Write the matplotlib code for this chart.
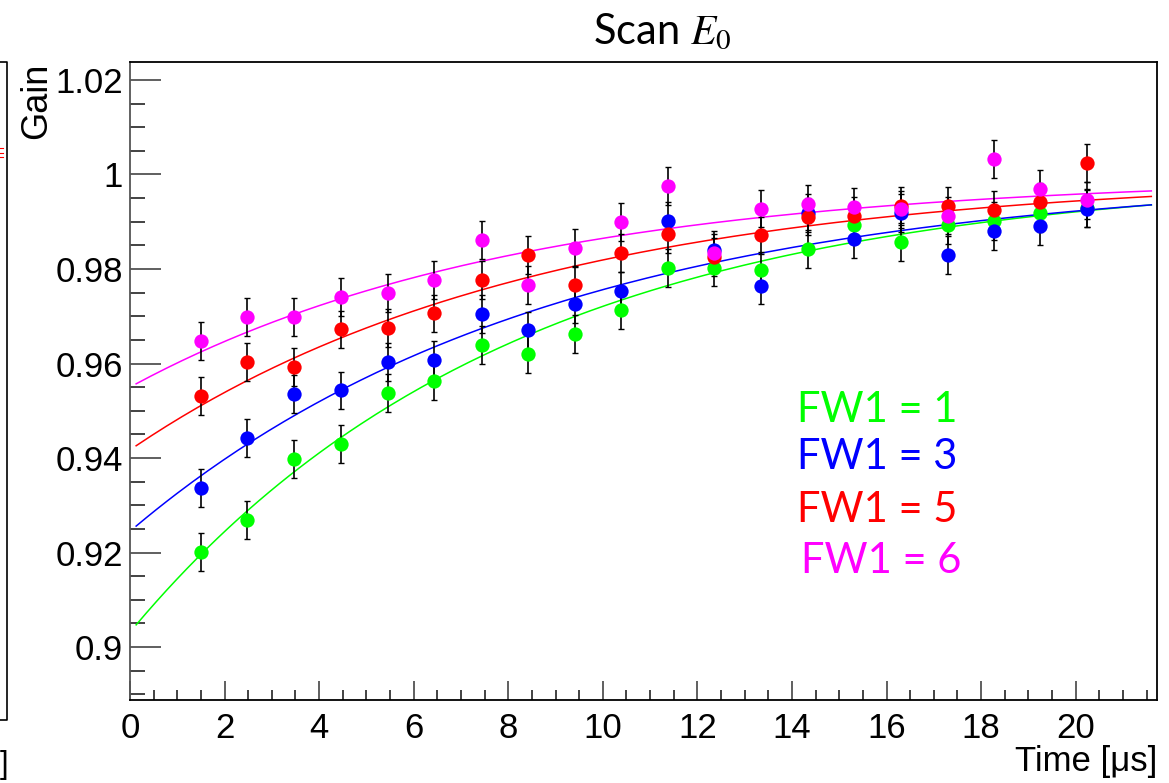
import matplotlib
matplotlib.use("Agg")
import matplotlib.pyplot as plt
import numpy as np
from matplotlib.lines import Line2D
from matplotlib.ticker import MultipleLocator, FixedLocator, FixedFormatter

plt.rcParams["mathtext.fontset"] = "stix"

# ---------------- data ----------------
TIME = [1.506, 2.478, 3.476, 4.469, 5.449, 6.433, 7.434, 8.412, 9.404, 10.39,
        11.375, 12.355, 13.354, 14.33, 15.31, 16.31, 17.30, 18.27, 19.25, 20.23]

GAIN_FW1_1 = [0.9201, 0.9269, 0.9398, 0.9429, 0.9537, 0.9563, 0.9640, 0.9620, 0.9663, 0.9714,
              0.9802, 0.9803, 0.9797, 0.9843, 0.9893, 0.9857, 0.9893, 0.9902, 0.9919, 0.9929]
GAIN_FW1_3 = [0.9336, 0.9443, 0.9535, 0.9543, 0.9604, 0.9608, 0.9705, 0.9670, 0.9726, 0.9754,
              0.9902, 0.9840, 0.9765, 0.9918, 0.9863, 0.9918, 0.9830, 0.9880, 0.9890, 0.9928]
GAIN_FW1_5 = [0.9531, 0.9604, 0.9593, 0.9672, 0.9676, 0.9706, 0.9777, 0.9830, 0.9766, 0.9833,
              0.9873, 0.9826, 0.9871, 0.9911, 0.9912, 0.9933, 0.9934, 0.9925, 0.9942, 1.0024]
GAIN_FW1_6 = [0.9647, 0.9699, 0.9699, 0.9741, 0.9749, 0.9777, 0.9861, 0.9766, 0.9844, 0.9900,
              0.9976, 0.9833, 0.9928, 0.9937, 0.9932, 0.9926, 0.9913, 1.0033, 0.9969, 0.9945]
YERR = 0.004

LABELS = ["FW1 = 1", "FW1 = 3", "FW1 = 5", "FW1 = 6"]
COLORS = ["#00ff00", "#0000ff", "#ff0000", "#ff00ff"]

# fit parameters f(t) = A - B*exp(-t/tau)
FIT_A = [1.00027, 1.00026, 1.00001, 0.99975]
FIT_B = [0.09712, 0.07576, 0.05829, 0.04475]
FIT_TAU = [8.08, 8.90, 8.55, 8.22]
FIT_RANGE = (0.13, 21.6)

XTICKS = [0, 2, 4, 6, 8, 10, 12, 14, 16, 18, 20]
YTICKS = [0.90, 0.92, 0.94, 0.96, 0.98, 1.00, 1.02]
YTICKLABELS = ["0.9", "0.92", "0.94", "0.96", "0.98", "1", "1.02"]

# ---------------- figure ----------------
W, H = 1169, 783
fig = plt.figure(figsize=(W / 100, H / 100), dpi=100)
fig.patch.set_facecolor("white")

def fx(px):
    return px / W

def fy(py):
    return 1 - py / H

ax = fig.add_axes([fx(130), fy(700), fx(1157) - fx(130), fy(62) - fy(700)])
ax.set_xlim(0, 21.72)
ax.set_ylim(0.8888, 1.0238)

series = [GAIN_FW1_1, GAIN_FW1_3, GAIN_FW1_5, GAIN_FW1_6]
tfit = np.linspace(FIT_RANGE[0], FIT_RANGE[1], 200)
for vals, c, A, B, tau in zip(series, COLORS, FIT_A, FIT_B, FIT_TAU):
    ax.plot(tfit, A - B * np.exp(-tfit / tau), color=c, lw=1.1, zorder=2)
for vals, c in zip(series, COLORS):
    ax.errorbar(TIME, vals, yerr=YERR, fmt="none", ecolor="black", elinewidth=1.2,
                capsize=2.0, capthick=1.0, zorder=3)
for vals, c in zip(series, COLORS):
    ax.plot(TIME, vals, "o", color=c, markersize=10.3, markeredgewidth=0, zorder=4)

# ticks
tickfont = "Liberation Sans"
ax.xaxis.set_major_locator(FixedLocator(XTICKS))
ax.xaxis.set_minor_locator(MultipleLocator(0.5))
ax.yaxis.set_major_locator(FixedLocator(YTICKS))
ax.yaxis.set_major_formatter(FixedFormatter(YTICKLABELS))
ax.yaxis.set_minor_locator(MultipleLocator(0.005))
ax.tick_params(axis="y", which="major", direction="in", length=22, width=1.2,
               color="#444444", pad=5, labelsize=25, right=False)
ax.tick_params(axis="y", which="minor", direction="in", length=11, width=1.2,
               color="#222222", right=False)
ax.tick_params(axis="x", which="major", direction="in", length=14, width=1.2,
               color="#444444", pad=9, labelsize=25, top=False)
ax.tick_params(axis="x", which="minor", direction="in", length=7, width=1.2,
               color="#222222", top=False)
for lab in ax.get_xticklabels() + ax.get_yticklabels():
    lab.set_fontfamily(tickfont)
for s in ax.spines.values():
    s.set_linewidth(1.3)
    s.set_color("black")
ax.spines["left"].set_color("#555555")

# axis titles
fig.text(fx(1157), fy(762), "Time [μs]", ha="right", va="center",
         fontsize=25, family=tickfont)
fig.text(fx(37), fy(63), "Gain", ha="center", va="top", rotation=90,
         fontsize=26, family=tickfont)

# title
fig.text(fx(662), fy(32), r"Scan $E_0$", ha="center", va="center",
         fontsize=30, family="Lato")

# legend-like labels
LEG_Y = [410, 457, 510, 561]
LEG_X = [797, 797, 797, 801]
for lab, c, lx, ly in zip(LABELS, COLORS, LEG_X, LEG_Y):
    fig.text(fx(lx), fy(ly), lab, color=c, ha="left", va="center",
             fontsize=30, family="Lato")

# left neighbour panel fragment
fig.add_artist(Line2D([fx(0), fx(7), fx(7), fx(0)], [fy(62), fy(62), fy(720), fy(720)],
                      transform=fig.transFigure, color="black", lw=1.2))
for yy in [148, 153, 157]:
    fig.add_artist(Line2D([fx(0), fx(3)], [fy(yy), fy(yy)], transform=fig.transFigure,
                          color="red", lw=0.8))
fig.text(fx(0), fy(765), "]", ha="left", va="center", fontsize=22, family=tickfont)

fig.savefig("out.png", dpi=100, facecolor="white")
